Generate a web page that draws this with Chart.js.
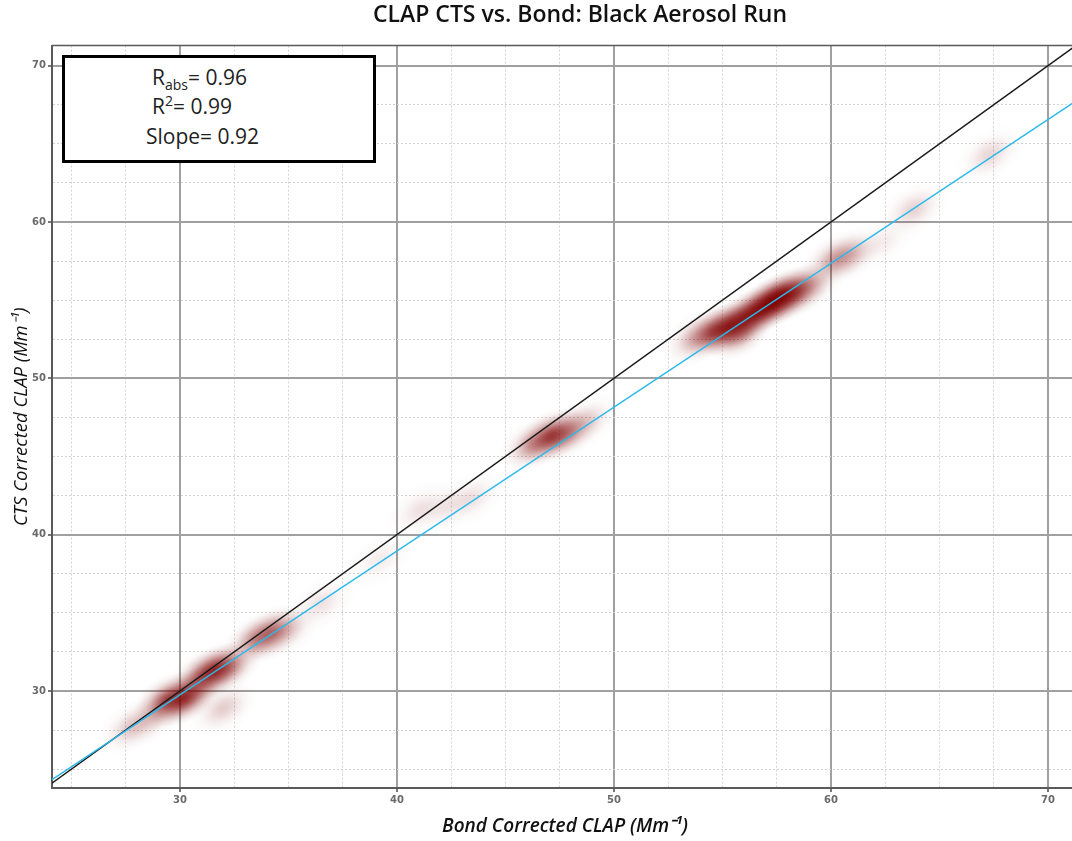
<!DOCTYPE html>
<html>
<head>
<meta charset="utf-8">
<title>CLAP CTS vs. Bond: Black Aerosol Run</title>
<script src="https://cdn.jsdelivr.net/npm/chart.js@4.4.0/dist/chart.umd.min.js"></script>
<style>
  html, body { margin: 0; padding: 0; background: #fff; overflow: hidden; width: 1072px; height: 841px; }
  #wrap { position: relative; width: 1160px; height: 841px; }
  canvas { display: block; }
  #stats {
    position: absolute; left: 62px; top: 55px; width: 308px; height: 102px;
    border: 3px solid #000; background: #fff;
    font-family: 'Open Sans', sans-serif; font-size: 21px; color: #222;
  }
  #stats div { position: absolute; white-space: nowrap; line-height: 1; }
  #stats sub { font-size: 14px; vertical-align: -5px; line-height: 0; }
  #stats sup { font-size: 14px; vertical-align: 8px; line-height: 0; }
</style>
</head>
<body>
<div id="wrap">
  <canvas id="chart" width="1160" height="841"></canvas>
  <div id="stats">
    <div style="left:87px; top:9px">R<sub>abs</sub>= 0.96</div>
    <div style="left:87px; top:38px">R<sup>2</sup>= 0.99</div>
    <div style="left:81px; top:68px">Slope= 0.92</div>
  </div>
</div>
<script>
// Density of CTS vs. Bond corrected absorption (Mm-1): centre x, centre y, relative density
const heatX = [27.8, 28.7, 29.4, 30.1, 30.6, 32.0, 31.0, 31.6, 32.2, 33.5, 34.2, 34.9, 36.5, 39.2,
               41.1, 42.3, 43.4, 46.3, 47.1, 47.8, 48.7, 53.8, 54.6, 55.3, 55.8, 56.0, 56.6, 57.2,
               57.7, 58.3, 59.0, 60.2, 60.9, 62.3, 63.8, 67.3];
const heatY = [27.7, 28.3, 29.4, 29.5, 29.8, 28.9, 30.9, 31.3, 31.5, 33.3, 33.7, 33.9, 35.6, 38.4,
               41.6, 41.8, 42.3, 45.8, 46.3, 46.5, 47.2, 52.6, 53.0, 53.3, 52.9, 53.8, 54.3, 54.8,
               55.2, 55.5, 55.9, 57.6, 57.9, 58.7, 60.8, 64.3];
const heatD = [0.22, 0.18, 0.65, 0.75, 0.35, 0.20, 0.50, 0.75, 0.45, 0.40, 0.50, 0.20, 0.12, 0.08,
               0.12, 0.10, 0.12, 0.40, 0.70, 0.45, 0.20, 0.30, 0.65, 0.80, 0.45, 0.70, 0.80, 0.95,
               0.90, 0.65, 0.30, 0.35, 0.25, 0.08, 0.18, 0.16];

// Regression stats
const fitSlope = 0.92;
const fitIntercept = 2.15;
const lineEnds = [20, 80];

// Axis ticks
const majorTicks = [30, 40, 50, 60, 70];
const gridTicks = [25, 27.5, 30, 32.5, 35, 37.5, 40, 42.5, 45, 47.5, 50, 52.5, 55, 57.5,
                   60, 62.5, 65, 67.5, 70];
const xRange = [24.1, 71.38];
const yRange = [23.79, 71.28];

// Soft elliptical blob used as the point image for the density layer
const blobCache = {};
function blob(d) {
  const key = Math.round(d * 100);
  if (blobCache[key]) return blobCache[key];
  const size = 110, R = 40;
  const c = document.createElement('canvas');
  c.width = size; c.height = size;
  const g = c.getContext('2d');
  g.translate(size / 2, size / 2);
  g.rotate(-33.5 * Math.PI / 180);
  g.scale(1, 0.62);
  const grad = g.createRadialGradient(0, 0, 0, 0, 0, R);
  const a = Math.min(1, d);
  const stops = [[0, 1], [0.15, 0.9], [0.3, 0.66], [0.45, 0.4], [0.6, 0.2], [0.75, 0.08], [0.9, 0.02], [1, 0]];
  stops.forEach(([t, f]) => grad.addColorStop(t, `rgba(128,0,0,${(a * f).toFixed(3)})`));
  g.fillStyle = grad;
  g.beginPath();
  g.arc(0, 0, R, 0, Math.PI * 2);
  g.fill();
  blobCache[key] = c;
  return c;
}

const heatPoints = heatX.map((x, i) => ({ x, y: heatY[i], d: heatD[i] }));
const onePoints = lineEnds.map(x => ({ x, y: x }));
const fitPoints = lineEnds.map(x => ({ x, y: fitSlope * x + fitIntercept }));

const isMajor = ctx => ctx.tick && majorTicks.includes(ctx.tick.value);

function axis(range, fitFn, titleText, titleFont, titlePad) {
  return {
    type: 'linear',
    min: range[0],
    max: range[1],
    afterBuildTicks: s => { s.ticks = gridTicks.map(v => ({ value: v })); },
    afterFit: fitFn,
    ticks: {
      autoSkip: false,
      maxRotation: 0,
      padding: 2,
      color: '#6a6a6a',
      font: { family: 'DejaVu Sans', size: 10, weight: 'bold' },
      callback: v => majorTicks.includes(v) ? String(v) : ''
    },
    grid: {
      color: ctx => isMajor(ctx) ? '#a0a0a0' : '#d2d2d2',
      lineWidth: ctx => isMajor(ctx) ? 2 : 1,
      tickColor: ctx => isMajor(ctx) ? '#777' : 'rgba(0,0,0,0)',
      tickLength: 4
    },
    border: {
      display: true,
      color: '#5a5a5a',
      width: 2,
      dash: ctx => (ctx.tick && !majorTicks.includes(ctx.tick.value)) ? [2, 2] : []
    },
    title: {
      display: true,
      text: titleText,
      color: '#111',
      font: titleFont,
      padding: titlePad
    }
  };
}

// Thin frame line along the top of the plot area
const topFrame = {
  id: 'topFrame',
  afterDatasetsDraw(chart) {
    const { ctx, chartArea: a } = chart;
    ctx.save();
    ctx.strokeStyle = '#5a5a5a';
    ctx.lineWidth = 1.5;
    ctx.beginPath();
    ctx.moveTo(a.left, a.top);
    ctx.lineTo(a.right, a.top);
    ctx.stroke();
    ctx.restore();
  }
};

new Chart(document.getElementById('chart'), {
  data: {
    datasets: [
      {
        type: 'scatter',
        label: 'Density',
        data: heatPoints,
        order: 3,
        pointStyle: ctx => blob(ctx.raw ? ctx.raw.d : 0),
        pointRadius: 10,
        showLine: false
      },
      {
        type: 'line',
        label: '1:1',
        data: onePoints,
        order: 2,
        borderColor: '#1a1a1a',
        borderWidth: 1.5,
        pointRadius: 0,
        fill: false
      },
      {
        type: 'line',
        label: 'Fit',
        data: fitPoints,
        order: 1,
        borderColor: '#2bb8ea',
        borderWidth: 1.5,
        pointRadius: 0,
        fill: false
      }
    ]
  },
  options: {
    responsive: false,
    animation: false,
    events: [],
    layout: { padding: 0 },
    plugins: {
      legend: { display: false },
      tooltip: { enabled: false },
      title: {
        display: true,
        text: 'CLAP CTS vs. Bond: Black Aerosol Run',
        color: '#111',
        font: { family: 'Open Sans', size: 23, weight: '600', lineHeight: 1.2 },
        padding: { top: 2, bottom: 16 }
      }
    },
    scales: {
      x: axis(xRange, s => { s.height = 53; }, 'Bond Corrected CLAP (Mm\u207B\u00B9)',
              { family: 'Open Sans', size: 19, style: 'italic', weight: '600', lineHeight: 1.2 },
              { top: 0, bottom: 3 }),
      y: axis(yRange, s => { s.width = 52; }, 'CTS Corrected CLAP (Mm\u207B\u00B9)',
              { family: 'Open Sans', size: 18.5, style: 'italic', weight: 'normal', lineHeight: 1.2 },
              { top: 11, bottom: 0 }),
      // empty strip on the right of the plot area
      yPad: {
        type: 'linear',
        position: 'right',
        display: true,
        afterFit: s => { s.width = 82; },
        ticks: { display: false },
        grid: { display: false, drawTicks: false },
        border: { display: false }
      }
    }
  },
  plugins: [topFrame]
});
</script>
</body>
</html>
